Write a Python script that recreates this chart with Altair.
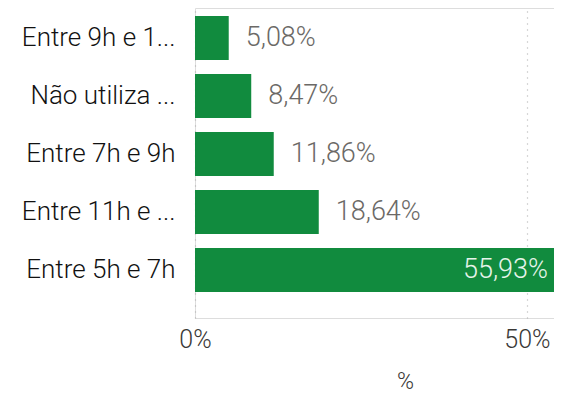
import altair as alt
import pandas as pd

categories = ["Entre 9h e 1...", "Não utiliza ...", "Entre 7h e 9h", "Entre 11h e ...", "Entre 5h e 7h"]
values = [5.08, 8.47, 11.86, 18.64, 55.93]
x_ticks = [0, 50]

df = pd.DataFrame({"cat": categories, "val": values})
df["lab"] = [f"{v:.2f}".replace(".", ",") + "%" for v in values]

FONT = "Roboto"
GREEN = "#118B3E"

x = alt.X("val:Q",
          scale=alt.Scale(domain=[0, 54.07], nice=False, clamp=True),
          axis=alt.Axis(values=x_ticks, labelExpr="datum.value + '%'", title="%",
                        grid=True, gridDash=[1, 5], gridColor="#B0B0B0", gridWidth=1.2,
                        domain=False, ticks=False, tickSize=0,
                        labelFont=FONT, labelFontSize=25, labelFontWeight=300,
                        labelColor="#3A3836", labelPadding=9, labelFlush=False,
                        titleFont=FONT, titleFontSize=23, titleFontWeight=300, titleColor="#3A3836",
                        titleX=210, titleY=63, titleAlign="center", titleBaseline="middle"))
y = alt.Y("cat:N", sort=categories,
          scale=alt.Scale(paddingInner=0.24, paddingOuter=0.2925, align=0.236),
          axis=alt.Axis(title=None, domain=False, ticks=False, tickSize=0,
                        labelFont=FONT, labelFontSize=26, labelFontWeight=300,
                        labelColor="#111111", labelPadding=20, labelLimit=300))

base = alt.Chart(df)
bars = base.mark_bar(color=GREEN).encode(x=x, y=y)
out_labels = base.transform_filter("datum.val < 40").mark_text(
    align="left", baseline="middle", dx=17, font=FONT, fontSize=27, fontWeight=300, color="#6B6966"
).encode(x=alt.X("val:Q"), y=alt.Y("cat:N", sort=categories), text="lab:N")
in_labels = base.transform_filter("datum.val >= 40").mark_text(
    align="right", baseline="middle", dx=-6, font=FONT, fontSize=27, fontWeight=300, color="#E6F4EA"
).encode(x=alt.X("val:Q"), y=alt.Y("cat:N", sort=categories), text="lab:N")

chart = alt.layer(bars, out_labels, in_labels).properties(
    width=359, height=310,
    autosize=alt.AutoSizeParams(type="none"),
    padding={"left": 187, "top": 0, "right": 0, "bottom": 76},
).configure_view(stroke=None).configure(background="white")

chart.save("out.html", embed_options={"renderer": "svg", "actions": False})
